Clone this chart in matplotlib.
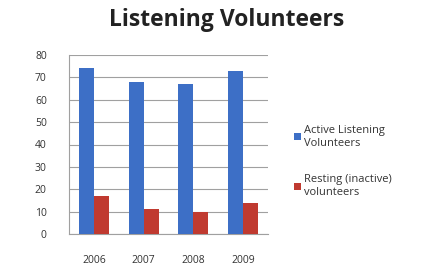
import matplotlib.pyplot as plt
import numpy as np

years = ['2006', '2007', '2008', '2009']
active = [74, 68, 67, 73]
resting = [17, 11, 10, 14]
series_names = ['Active Listening\nVolunteers', 'Resting (inactive)\nvolunteers']

plt.rcParams['font.family'] = ['Open Sans', 'DejaVu Sans']

fig = plt.figure(figsize=(4.27, 2.68), dpi=100)
ax = fig.add_axes([69 / 427, 1 - 234 / 268, 199 / 427, 179 / 268])

x = np.arange(len(years))
w = 0.3
b1 = ax.bar(x - w / 2, active, w, color='#3D6FC6', label=series_names[0], zorder=3)
b2 = ax.bar(x + w / 2, resting, w, color='#C03A30', label=series_names[1], zorder=3)

ax.set_xlim(-0.5, len(years) - 0.5)
ax.set_ylim(0, 80)
ax.set_yticks(range(0, 81, 10))
ax.set_xticks(x)
ax.set_xticklabels(years)
ax.yaxis.grid(True, color='#a0a0a0', linewidth=0.8, zorder=0)
for s in ['top', 'right']:
    ax.spines[s].set_visible(False)
for s in ['left', 'bottom']:
    ax.spines[s].set_color('#a0a0a0')
ax.tick_params(axis='y', length=0, labelsize=7.5, pad=16, labelcolor='#333333')
ax.tick_params(axis='x', length=0, labelsize=7.5, pad=15, labelcolor='#333333')

fig.text(0.53, 0.925, 'Listening Volunteers', ha='center', va='center',
         fontsize=16.5, fontweight='bold', color='#222222')

fig.legend(handles=[b1, b2], loc='upper left', bbox_to_anchor=(284 / 427, 1 - 115 / 268),
           frameon=False, fontsize=8, handlelength=0.6, handleheight=0.6,
           handletextpad=0.3, labelspacing=2.3, labelcolor='#333333')

fig.savefig('out.png', dpi=100)
